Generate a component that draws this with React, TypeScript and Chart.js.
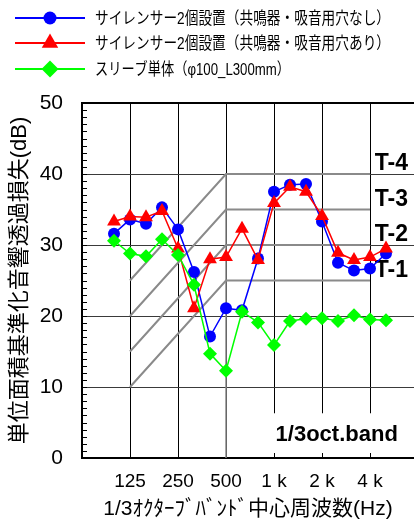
import React, { useEffect, useRef } from 'react';
import { Chart, registerables } from 'chart.js';
Chart.register(...registerables);

// 1/3 octave band centre frequencies (position index = array index)
const bands = ['100', '125', '160', '200', '250', '315', '400', '500', '630', '800', '1k', '1.25k', '1.6k', '2k', '2.5k', '3.15k', '4k', '5k'];
const xTickBands = ['125', '250', '500', '1k', '2k', '4k'];
const xTickLabels = ['125', '250', '500', '1 k', '2 k', '4 k'];

const seriesNames = [
  'サイレンサー2個設置（共鳴器・吸音用穴なし）',
  'サイレンサー2個設置（共鳴器・吸音用穴あり）',
  'スリーブ単体（φ100_L300mm）',
];
const noResonator = [31.6, 33.6, 33.0, 35.3, 32.2, 26.2, 17.1, 21.1, 20.8, 28.1, 37.5, 38.5, 38.6, 33.3, 27.5, 26.4, 26.7, 28.8];
const withResonator = [33.3, 34.0, 33.9, 34.8, 29.5, 21.1, 28.0, 28.3, 32.3, 27.9, 35.9, 38.2, 37.5, 34.1, 28.9, 27.9, 28.3, 29.5];
const sleeveOnly = [30.6, 28.8, 28.4, 30.8, 28.6, 24.4, 14.7, 12.3, 20.6, 19.1, 15.9, 19.3, 19.6, 19.7, 19.3, 20.1, 19.5, 19.4];

// T-grade reference curves (values at 125 Hz, 500 Hz, 4 kHz)
const tGrades = ['T-1', 'T-2', 'T-3', 'T-4'];
const tFreqs = ['125', '500', '4k'];
const tCurve1 = [10, 25, 25];
const tCurve2 = [15, 30, 30];
const tCurve3 = [20, 35, 35];
const tCurve4 = [25, 40, 40];
const tVerticalAt500 = [0, 40];

const yMin = 0;
const yMax = 50;
const yStep = 10;

const colors = ['#0000ff', '#ff0000', '#00ff00'];
const pointStyles = ['circle', 'triangle', 'rectRot'];
const pointRadii = [6, 8, 7];

const latin = '"Liberation Sans", "Noto Sans CJK JP", sans-serif';

const idx = (b: string) => bands.indexOf(b);
const toPoints = (vals: number[]) => vals.map((v, i) => ({ x: i, y: v }));

function drawMarker(ctx: CanvasRenderingContext2D, style: string, x: number, y: number, r: number, color: string) {
  ctx.fillStyle = color;
  ctx.beginPath();
  if (style === 'circle') {
    ctx.arc(x, y, r, 0, Math.PI * 2);
  } else if (style === 'triangle') {
    for (let k = 0; k < 3; k++) {
      const a = (k * 2 * Math.PI) / 3;
      const px = x + Math.sin(a) * r;
      const py = y - Math.cos(a) * r;
      if (k === 0) ctx.moveTo(px, py); else ctx.lineTo(px, py);
    }
    ctx.closePath();
  } else {
    ctx.moveTo(x, y - r);
    ctx.lineTo(x + r, y);
    ctx.lineTo(x, y + r);
    ctx.lineTo(x - r, y);
    ctx.closePath();
  }
  ctx.fill();
}

const overlayPlugin = {
  id: 'overlay',
  beforeDatasetsDraw(chart: any) {
    const { ctx, chartArea: a, scales } = chart;
    const x = scales.x;
    const y = scales.y;
    ctx.save();
    // white label box
    const bx0 = x.getPixelForValue(9.4);
    const bx1 = x.getPixelForValue(18.2);
    const by0 = y.getPixelForValue(6.3);
    const by1 = y.getPixelForValue(0.4);
    ctx.fillStyle = '#ffffff';
    ctx.fillRect(bx0, by0, bx1 - bx0, by1 - by0);
    // top border
    ctx.strokeStyle = '#000';
    ctx.lineWidth = 2;
    ctx.beginPath();
    ctx.moveTo(a.left - 1, a.top);
    ctx.lineTo(a.right, a.top);
    ctx.stroke();
    // minor y ticks (inside)
    ctx.lineWidth = 1;
    for (let v = yMin + 1; v < yMax; v++) {
      const py = Math.round(y.getPixelForValue(v)) + 0.5;
      ctx.beginPath();
      ctx.moveTo(a.left, py);
      ctx.lineTo(a.left + 5, py);
      ctx.stroke();
    }
    // x ticks (inside)
    xTickBands.forEach((b) => {
      const px = Math.round(x.getPixelForValue(idx(b))) + 0.5;
      ctx.beginPath();
      ctx.moveTo(px, a.bottom);
      ctx.lineTo(px, a.bottom - 5);
      ctx.stroke();
    });
    // texts
    ctx.fillStyle = '#000';
    ctx.textBaseline = 'middle';
    ctx.textAlign = 'left';
    ctx.font = 'bold 22px ' + latin;
    ctx.fillText('1/3oct.band', x.getPixelForValue(10.1), y.getPixelForValue(3.2));
    const tVals = [tCurve1, tCurve2, tCurve3, tCurve4];
    ctx.font = 'bold 23px ' + latin;
    tGrades.forEach((g, k) => {
      ctx.fillText(g, x.getPixelForValue(16.3), y.getPixelForValue(tVals[k][2] + 1.4));
    });
    ctx.restore();
  },
  afterDraw(chart: any) {
    const { ctx } = chart;
    ctx.save();
    const rows = [18, 43, 69];
    const widths = [295, 295, 195];
    seriesNames.forEach((name, k) => {
      const ry = rows[k];
      ctx.strokeStyle = colors[k];
      ctx.lineWidth = 2;
      ctx.beginPath();
      ctx.moveTo(15, ry);
      ctx.lineTo(85, ry);
      ctx.stroke();
      drawMarker(ctx, pointStyles[k], 50, ry, [6.5, 9.5, 8.5][k], colors[k]);
      ctx.fillStyle = '#000';
      ctx.font = '16.5px ' + latin;
      ctx.textBaseline = 'middle';
      ctx.textAlign = 'left';
      ctx.fillText(name, 95, ry + 1, widths[k]);
    });
    ctx.restore();
  },
};

export default function App() {
  const ref = useRef<HTMLCanvasElement | null>(null);
  useEffect(() => {
    if (!ref.current) return;
    const tColor = '#8a8a8a';
    const tLine = (vals: number[]) => ({
      type: 'line' as const,
      data: tFreqs.map((f, k) => ({ x: idx(f), y: vals[k] })),
      borderColor: tColor,
      borderWidth: 2,
      pointRadius: 0,
      order: 10,
    });
    const mainSeries = [noResonator, withResonator, sleeveOnly].map((vals, k) => ({
      type: 'line' as const,
      label: seriesNames[k],
      data: toPoints(vals),
      borderColor: colors[k],
      backgroundColor: colors[k],
      borderWidth: 1.5,
      pointStyle: pointStyles[k],
      pointRadius: pointRadii[k],
      pointBorderWidth: 0,
      order: 3 - k,
    }));
    const chart = new Chart(ref.current, {
      type: 'line',
      data: {
        datasets: [
          ...mainSeries,
          tLine(tCurve1),
          tLine(tCurve2),
          tLine(tCurve3),
          tLine(tCurve4),
          {
            type: 'line',
            data: tVerticalAt500.map((v) => ({ x: idx('500'), y: v })),
            borderColor: tColor,
            borderWidth: 1.5,
            pointRadius: 0,
            order: 11,
          },
        ] as any,
      },
      options: {
        responsive: false,
        maintainAspectRatio: false,
        animation: false,
        events: [],
        layout: { autoPadding: false, padding: { top: 103, left: 0, right: 0, bottom: 0 } },
        plugins: { legend: { display: false }, tooltip: { enabled: false } },
        scales: {
          x: {
            type: 'linear',
            min: -2,
            max: 18.75,
            afterBuildTicks: (s: any) => {
              s.ticks = xTickBands.map((b) => ({ value: idx(b) }));
            },
            afterFit: (s: any) => {
              s.height = 62;
              s.paddingLeft = 0;
              s.paddingRight = 0;
            },
            ticks: {
              autoSkip: false,
              maxRotation: 0,
              padding: 12,
              color: '#000',
              font: { family: latin, size: 19 },
              callback: (_v: any, i: number) => xTickLabels[i],
            },
            grid: { color: '#000', lineWidth: 1, drawTicks: false },
            border: { display: true, color: '#000', width: 2 },
            title: {
              display: true,
              text: '1/3ｵｸﾀｰﾌﾞﾊﾞﾝﾄﾞ中心周波数(Hz)',
              color: '#000',
              font: { family: latin, size: 21, lineHeight: 1 },
              padding: { top: 0, bottom: 0 },
            },
          },
          y: {
            type: 'linear',
            min: yMin,
            max: yMax,
            afterFit: (s: any) => {
              s.width = 82;
            },
            ticks: {
              stepSize: yStep,
              padding: 19,
              color: '#000',
              font: { family: latin, size: 21 },
            },
            grid: { color: '#3a3a3a', lineWidth: 1, drawTicks: false },
            border: { display: true, color: '#000', width: 2 },
            title: {
              display: true,
              text: '単位面積基準化音響透過損失(dB)',
              color: '#000',
              font: { family: latin, size: 22, lineHeight: 1.2 },
              padding: { top: 7, bottom: 0 },
            },
          },
        },
      },
      plugins: [overlayPlugin],
    });
    return () => chart.destroy();
  }, []);
  return (
    <div style={{ position: 'absolute', left: 0, top: 0, width: 414, height: 520, background: '#fff' }}>
      <canvas ref={ref} width={414} height={520} />
    </div>
  );
}
